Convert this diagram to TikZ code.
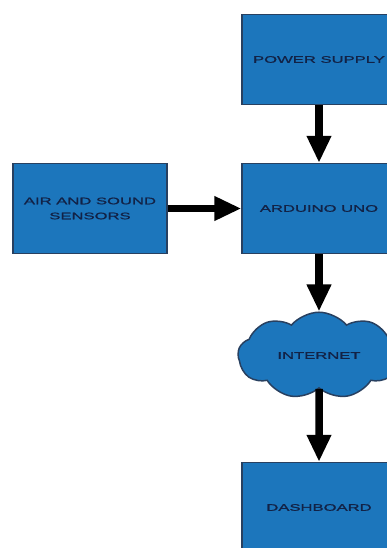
\documentclass[tikz,border=0pt]{standalone}
\usepackage{fontspec}
\usepackage{tikz}
\usetikzlibrary{positioning, arrows.meta, shapes.symbols}
\usepackage{xcolor}
\newfontfamily\boxfont[FakeStretch=1.75, FakeBold=1.2]{Liberation Sans}
\definecolor{boxblue}{RGB}{28,118,188}
\definecolor{boxedge}{RGB}{40,64,96}
\definecolor{boxtext}{RGB}{18,34,70}

\begin{document}
\begin{tikzpicture}[node distance=149pt, every node/.style={font=\boxfont\fontsize{9.5}{15}\selectfont, text=boxtext}]
  \tikzstyle{block} = [rectangle, minimum width=154pt, minimum height=90pt, text centered, align=center, draw=boxedge, line width=1.3pt, fill=boxblue]
  \tikzstyle{net} = [cloud, cloud puffs=9, cloud puff arc=100, aspect=1.8, minimum width=162pt, minimum height=86pt, draw=boxedge, line width=1.5pt, fill=boxblue]
  \tikzstyle{arrow} = [line width=7.5pt, -{Triangle[length=27pt, width=23pt]}]

  \useasboundingbox[fill=white] (0,0) rectangle (387pt,-548pt);

  \node (power) [block] at (319pt,-59.5pt) {POWER SUPPLY};
  \node (arduino) [block, below of=power] {ARDUINO UNO};
  \node (sensors) [block, left of=arduino, node distance=229pt] {AIR AND SOUND\\SENSORS};
  \node (internet) [net, below of=arduino, node distance=147pt] {INTERNET};
  \node (dashboard) [block, below of=internet, node distance=152pt] {DASHBOARD};

  \draw [arrow] (power) -- (arduino);
  \draw [arrow] (sensors) -- (arduino);
  \draw [arrow] (arduino) -- (internet);
  \draw [arrow] (internet) -- (dashboard);
\end{tikzpicture}
\end{document}
